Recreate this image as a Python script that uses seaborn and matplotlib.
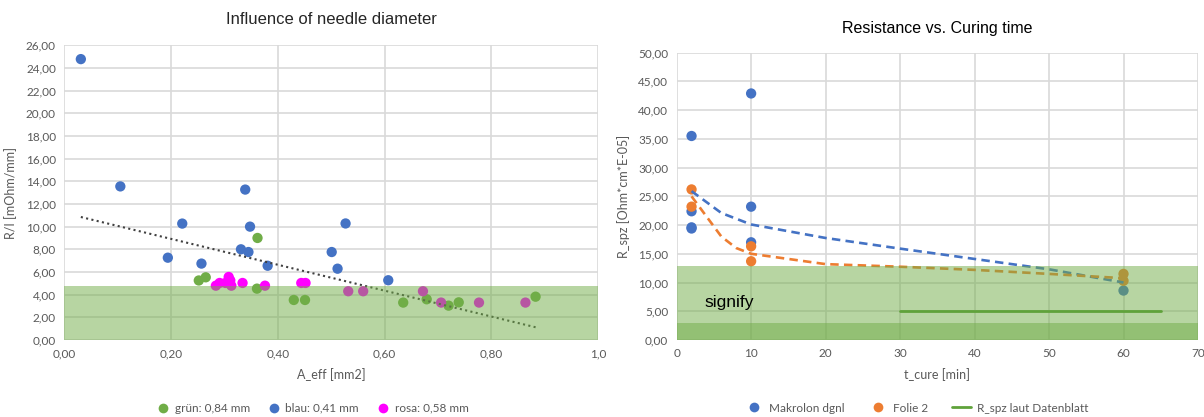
import numpy as np
import pandas as pd
import matplotlib
matplotlib.use("Agg")
import matplotlib.pyplot as plt
from matplotlib.lines import Line2D
import seaborn as sns

# ---------------- data: needle diameter ----------------
gruen_x = [0.252, 0.265, 0.362, 0.361, 0.430, 0.451, 0.635, 0.679, 0.720, 0.739, 0.883]
gruen_y = [5.25, 5.53, 9.00, 4.53, 3.53, 3.53, 3.30, 3.59, 3.03, 3.32, 3.82]

blau_x = [0.031, 0.105, 0.194, 0.221, 0.257, 0.331, 0.339, 0.345, 0.348, 0.381,
          0.501, 0.512, 0.527, 0.607]
blau_y = [24.78, 13.55, 7.26, 10.27, 6.74, 8.00, 13.27, 7.76, 10.00, 6.55,
          7.76, 6.29, 10.28, 5.27]

rosa_x = [0.284, 0.291, 0.302, 0.308, 0.311, 0.313, 0.334, 0.376, 0.444, 0.452,
          0.532, 0.560, 0.672, 0.706, 0.777, 0.864]
rosa_y = [4.79, 5.03, 5.03, 5.56, 5.26, 4.79, 5.03, 4.79, 5.03, 5.03,
          4.30, 4.30, 4.30, 3.30, 3.30, 3.30]

trend_x = [0.031, 0.885]
trend_y = [10.85, 1.10]

band_left = 4.8

left_labels = ["grün: 0,84 mm", "blau: 0,41 mm", "rosa: 0,58 mm"]

# ---------------- data: curing time ----------------
makrolon_t = [2, 2, 2, 2, 10, 10, 10, 60]
makrolon_r = [35.5, 22.4, 19.6, 19.4, 42.9, 23.2, 17.0, 8.6]

folie_t = [2, 2, 10, 10, 60, 60]
folie_r = [26.2, 23.2, 16.3, 13.7, 11.5, 10.3]

makrolon_fit_t = [2, 4, 6, 10, 20, 30, 40, 50, 60]
makrolon_fit_r = [25.9, 24.0, 22.1, 20.1, 17.75, 15.9, 14.1, 12.3, 10.0]

folie_fit_t = [2, 4, 6, 8, 10, 20, 30, 40, 50, 60]
folie_fit_r = [25.0, 21.5, 18.0, 16.0, 15.0, 13.2, 12.75, 12.2, 11.5, 10.75]

datenblatt_t = [30, 65]
datenblatt_r = [5.0, 5.0]

band_light = 12.8
band_dark = 3.0

right_labels = ["Makrolon dgnl", "Folie 2", "R_spz laut Datenblatt"]

# ---------------- style ----------------
BLUE = "#4472C4"
ORANGE = "#ED7D31"
GREEN = "#70AD47"
MAGENTA = "#FF00FF"
GRID = "#D9D9D9"
TICK = "#595959"

sns.set_theme(style="white")
plt.rcParams["font.family"] = ["Lato", "DejaVu Sans"]

fig = plt.figure(figsize=(12.04, 4.17), dpi=100)
ax1 = fig.add_axes([0.0534, 0.1847, 0.4433, 0.7067])
ax2 = fig.add_axes([0.5620, 0.1847, 0.4330, 0.6890])


def comma(v, digits=2):
    return f"{v:.{digits}f}".replace(".", ",")


def style_axes(ax):
    ax.grid(True, color=GRID, linewidth=1.2, zorder=0)
    ax.set_axisbelow(True)
    for s in ax.spines.values():
        s.set_visible(False)
    ax.tick_params(length=0, labelsize=8.5, labelcolor=TICK, pad=6)


# ---------------- left panel ----------------
left_df = pd.concat([
    pd.DataFrame({"x": gruen_x, "y": gruen_y, "serie": left_labels[0]}),
    pd.DataFrame({"x": blau_x, "y": blau_y, "serie": left_labels[1]}),
    pd.DataFrame({"x": rosa_x, "y": rosa_y, "serie": left_labels[2]}),
], ignore_index=True)

sns.scatterplot(data=left_df, x="x", y="y", hue="serie",
                palette={left_labels[0]: GREEN, left_labels[1]: BLUE, left_labels[2]: MAGENTA},
                s=55, linewidth=0, ax=ax1, legend=False, zorder=2)
sns.lineplot(x=trend_x, y=trend_y, ax=ax1, color="#404040", linewidth=1.5,
             linestyle=(0, (1, 1.6)), zorder=2)
ax1.axhspan(0, band_left, color=GREEN, alpha=0.5, linewidth=0, zorder=3)

ax1.set_xlim(0, 1.0)
ax1.set_ylim(0, 26)
xt = np.arange(0, 1.01, 0.2)
ax1.set_xticks(xt)
ax1.set_xticklabels([comma(v) for v in xt[:-1]] + ["1,0"])
yt = np.arange(0, 26.1, 2)
ax1.set_yticks(yt)
ax1.set_yticklabels([comma(v) for v in yt])
style_axes(ax1)
ax1.set_xlabel("A_eff [mm2]", fontsize=9, color=TICK, labelpad=6)
ax1.set_ylabel("R/I [mOhm/mm]", fontsize=9, color=TICK, labelpad=6)
ax1.set_title("Influence of needle diameter", fontsize=12, color="#262626",
              family=["Liberation Sans", "DejaVu Sans"], pad=15)

h1 = [Line2D([], [], marker="o", linestyle="", markersize=7, markeredgewidth=0,
             color=c) for c in (GREEN, BLUE, MAGENTA)]
ax1.legend(h1, left_labels, loc="center", bbox_to_anchor=(0.46, -0.232),
           ncol=3, frameon=False, fontsize=8.5, handletextpad=0.0,
           columnspacing=1.0, labelcolor=TICK, borderaxespad=0, borderpad=0)

# ---------------- right panel ----------------
right_df = pd.concat([
    pd.DataFrame({"t": makrolon_t, "r": makrolon_r, "probe": right_labels[0]}),
    pd.DataFrame({"t": folie_t, "r": folie_r, "probe": right_labels[1]}),
], ignore_index=True)

sns.scatterplot(data=right_df, x="t", y="r", hue="probe",
                palette={right_labels[0]: BLUE, right_labels[1]: ORANGE},
                s=55, linewidth=0, ax=ax2, legend=False, zorder=2)
sns.lineplot(x=makrolon_fit_t, y=makrolon_fit_r, ax=ax2, color=BLUE, linewidth=1.9,
             linestyle=(0, (3.2, 2.0)), zorder=2)
sns.lineplot(x=folie_fit_t, y=folie_fit_r, ax=ax2, color=ORANGE, linewidth=1.9,
             linestyle=(0, (3.2, 2.0)), zorder=2)
ax2.axhspan(0, band_light, color=GREEN, alpha=0.5, linewidth=0, zorder=3)
ax2.axhspan(0, band_dark, color=GREEN, alpha=0.5, linewidth=0, zorder=3)
sns.lineplot(x=datenblatt_t, y=datenblatt_r, ax=ax2, color="#5FA23A", linewidth=2.0,
             zorder=4)
ax2.text(3.8, 5.7, "signify", fontsize=12.5, color="black",
         family=["Liberation Sans", "DejaVu Sans"], zorder=5)

ax2.set_xlim(0, 70)
ax2.set_ylim(0, 50)
ax2.set_xticks(np.arange(0, 71, 10))
yt2 = np.arange(0, 50.1, 5)
ax2.set_yticks(yt2)
ax2.set_yticklabels([comma(v) for v in yt2])
style_axes(ax2)
ax2.set_xlabel("t_cure [min]", fontsize=9, color=TICK, labelpad=6)
ax2.set_ylabel("R_spz [Ohm*cm*E-05]", fontsize=9, color=TICK, labelpad=6)
ax2.set_title("Resistance vs. Curing time", fontsize=11.5, color="black",
              family=["Liberation Sans", "DejaVu Sans"], pad=14)

h2 = [Line2D([], [], marker="o", linestyle="", markersize=7, markeredgewidth=0, color=BLUE),
      Line2D([], [], marker="o", linestyle="", markersize=7, markeredgewidth=0, color=ORANGE),
      Line2D([], [], color="#5FA23A", linewidth=2.0)]
ax2.legend(h2, right_labels, loc="center", bbox_to_anchor=(0.46, -0.237),
           ncol=3, frameon=False, fontsize=8.5, handletextpad=0.5,
           columnspacing=2.0, labelcolor=TICK, handlelength=1.6,
           borderaxespad=0, borderpad=0)

fig.savefig("out.png", dpi=100, facecolor="white")
